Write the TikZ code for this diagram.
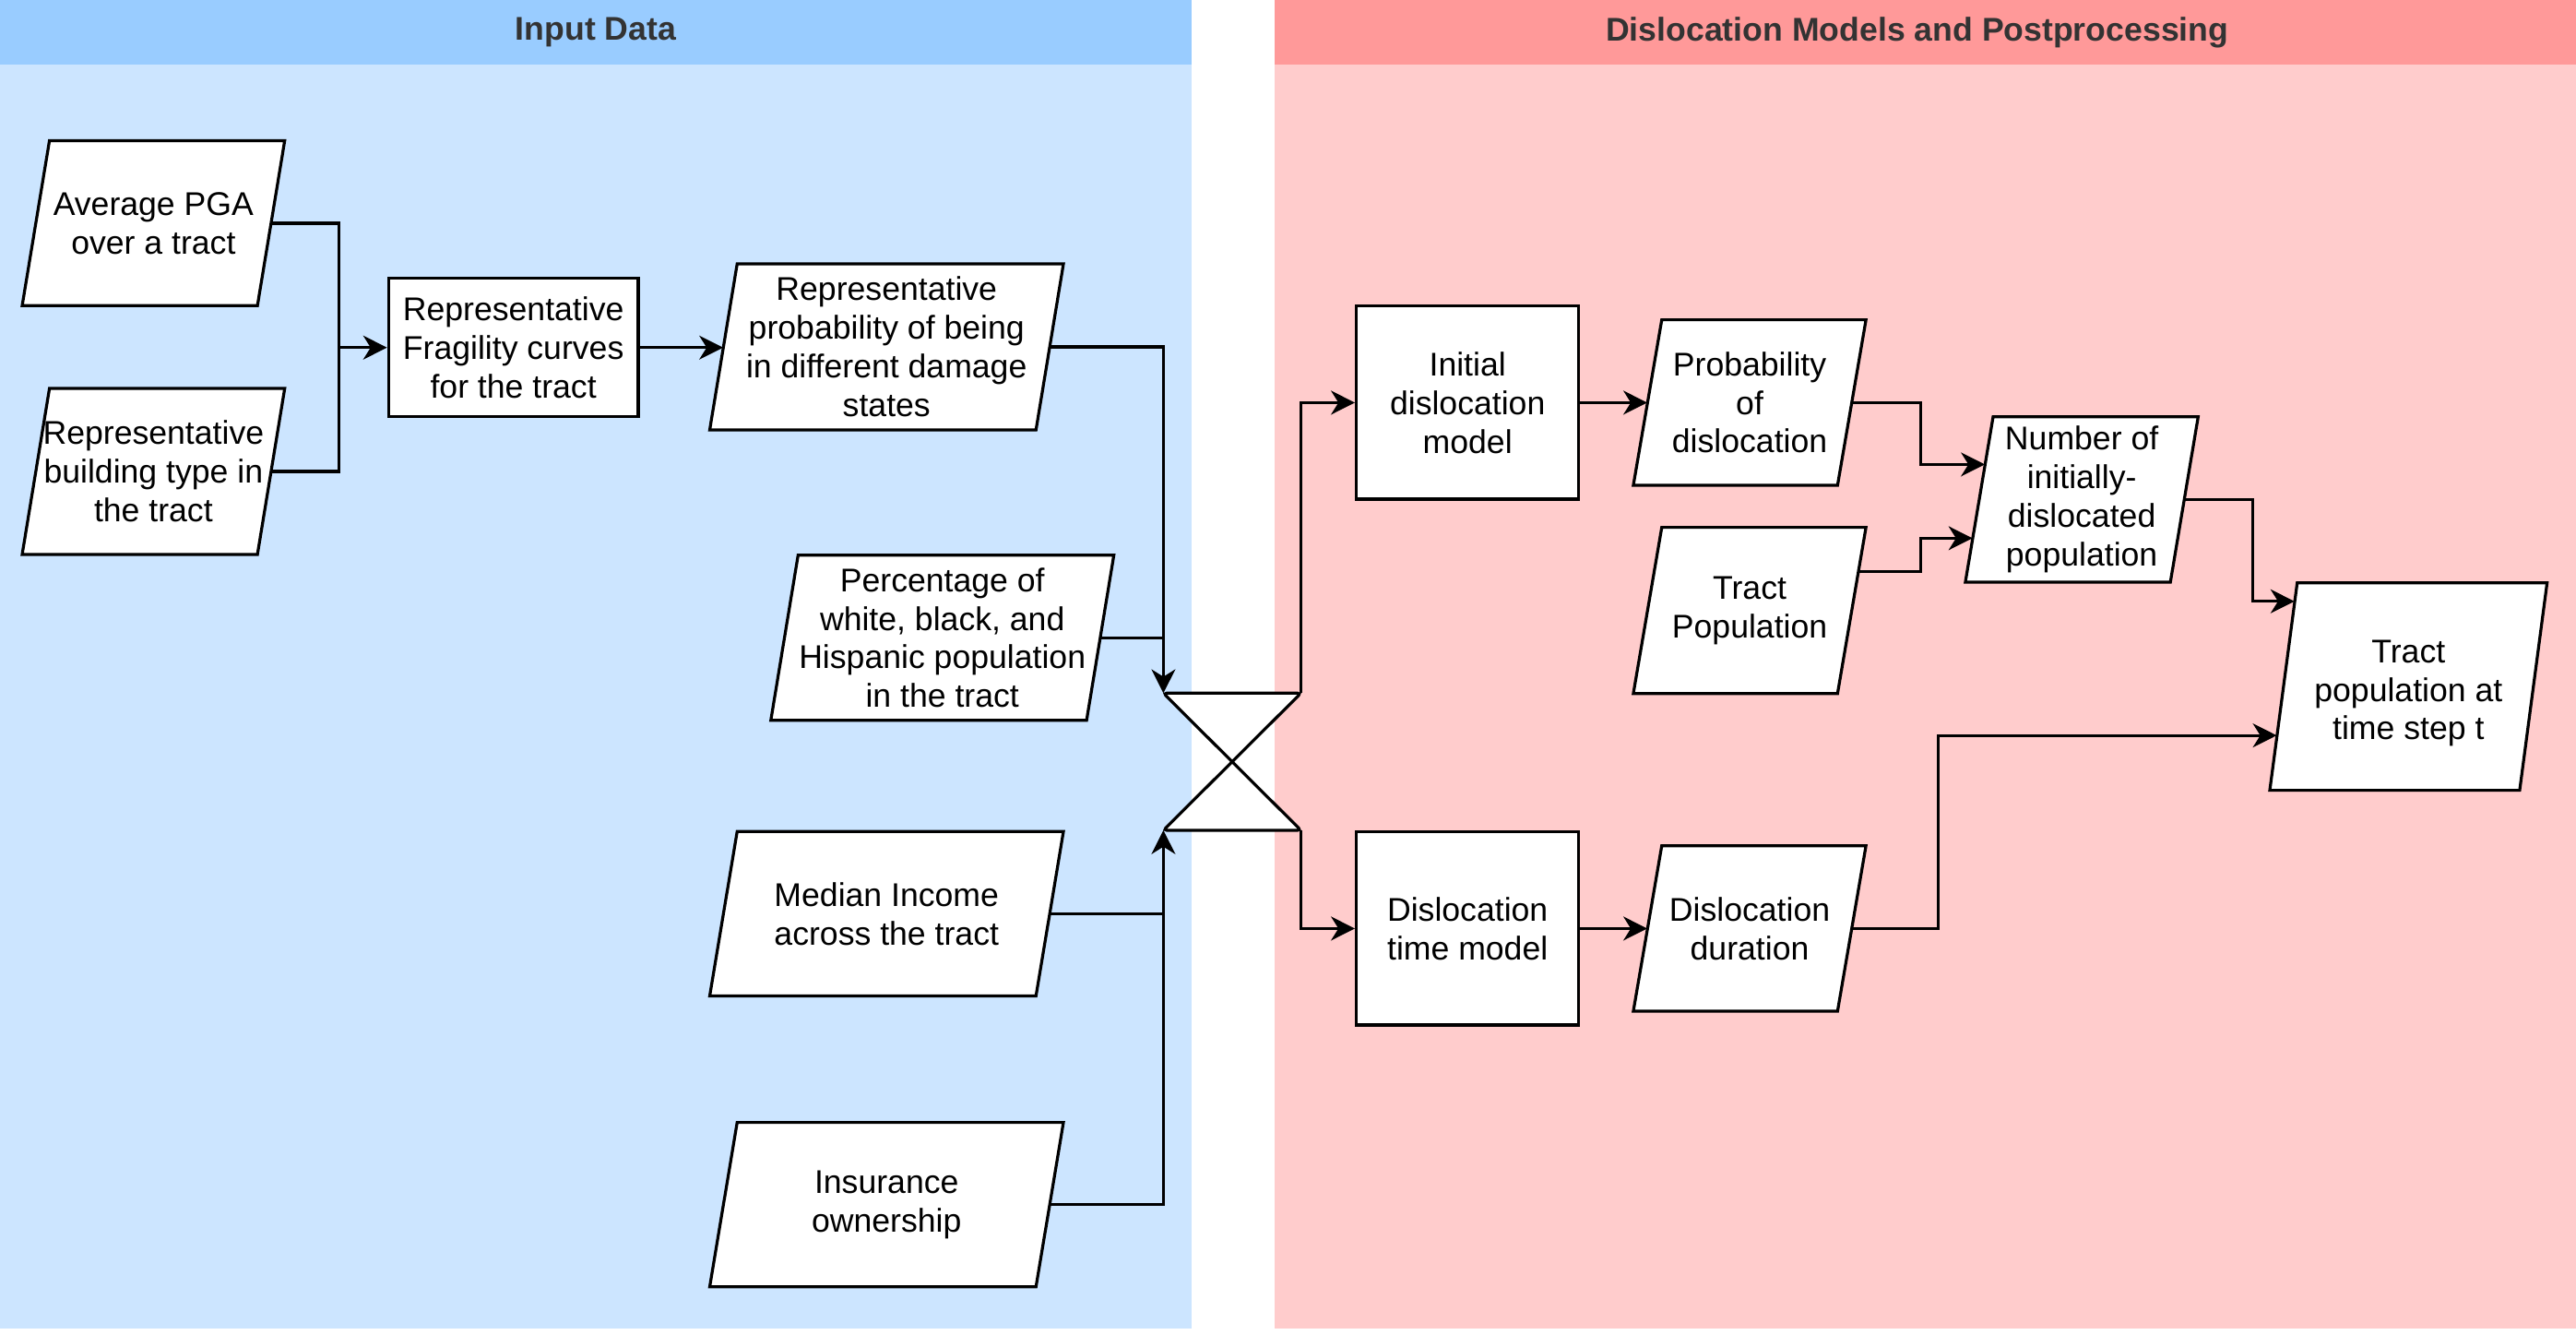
\documentclass[tikz,border=0pt]{standalone}
\usepackage{fontspec}
\setmainfont{Liberation Sans}
\usetikzlibrary{arrows.meta,calc}
\definecolor{hdrblue}{HTML}{99CCFF}
\definecolor{bodyblue}{HTML}{CCE5FF}
\definecolor{hdrred}{HTML}{FF9999}
\definecolor{bodyred}{HTML}{FFCCCC}
\definecolor{hdrtext}{HTML}{333333}
\newcommand\bodyfont{\fontsize{20}{23.5}\selectfont}
\newcommand\hdrfont{\fontsize{20}{24}\selectfont\bfseries}
\tikzset{
  box/.style={draw=black, fill=white, line width=1.8pt},
  rectnode/.style={box, inner sep=0pt, align=center, font=\bodyfont},
  pgtext/.style={inner sep=0pt, align=center, font=\bodyfont},
  arr/.style={line width=1.8pt, -{Stealth[length=14.5pt,width=14.5pt,inset=4.5pt]}},
  conn/.style={line width=1.8pt},
  hdr/.style={font=\hdrfont, text=hdrtext},
}
% parallelogram: name, x1, ytop, x2, ybottom, skew, text
\newcommand\pgram[7]{%
  \draw[box] (#2+#6,-#3) -- (#4,-#3) -- (#4-#6,-#5) -- (#2,-#5) -- cycle;
  \node[pgtext, minimum width={#4-#2-#6}, minimum height={#5-#3}] (#1) at ({(#2+#4)/2},{-(#3+#5)/2}) {#7};
}
\begin{document}
\begin{tikzpicture}[x=1pt,y=1pt]
\useasboundingbox (0,0) rectangle (1568,-812);
% panels
\fill[bodyblue] (0,0) rectangle (725.3,-808.4);
\fill[hdrblue] (0,0) rectangle (725.3,-39.3);
\node[hdr] (hin) at (362.65,-19.65) {Input Data};
\fill[bodyred] (776,0) rectangle (1568,-808.4);
\fill[hdrred] (776,0) rectangle (1568,-39.3);
\node[hdr] (hdl) at (1167,-19.65) {Dislocation Models and Postprocessing};

% input nodes
\pgram{pga}{13.5}{85.6}{173.3}{186}{16.6}{Average PGA\\over a tract}
\pgram{bld}{13.5}{236.4}{173.3}{337.4}{16.6}{Representative\\building type in\\the tract}
\node[rectnode, minimum width=152, minimum height=84.2] (frag) at (312.5,-211.5) {Representative\\Fragility curves\\for the tract};
\pgram{pd}{432}{160.6}{647.3}{261.6}{16.7}{Representative\\probability of being\\in different damage\\states}
\pgram{pct}{469.2}{337.8}{678}{438.3}{16.6}{Percentage of\\white, black, and\\Hispanic population\\in the tract}
\pgram{med}{432}{506}{647.3}{606}{16.7}{Median Income\\across the tract}
\pgram{ins}{432}{683}{647.3}{783}{16.7}{Insurance\\ownership}

% collate
\node[inner sep=0pt, minimum width=83.3, minimum height=83] (col) at (750,-463.5) {};
\draw[box, rounded corners=2pt] (col.north west) -- (col.north east) -- (col.south west) -- (col.south east) -- cycle;

% right side nodes
\node[rectnode, minimum width=135.4, minimum height=117.5] (init) at (893.3,-245) {Initial\\dislocation\\model};
\node[rectnode, minimum width=135.4, minimum height=117.5] (tm) at (893.3,-565) {Dislocation\\time model};
\pgram{pdis}{994.2}{194.6}{1135.8}{295.3}{17.3}{Probability\\of\\dislocation}
\pgram{tpop}{994.2}{320.9}{1135.8}{422}{17.3}{Tract\\Population}
\pgram{dur}{994.2}{514.6}{1135.8}{615.3}{17.3}{Dislocation\\duration}
\pgram{num}{1196.3}{253.6}{1338}{354.2}{16.9}{Number of\\initially-\\dislocated\\population}
\pgram{tpt}{1381.6}{354.6}{1550.4}{480.9}{16.7}{\rule{0pt}{22pt}Tract\\population at\\time step t}

% connectors
\draw[arr] (pga.east) -| ([xshift=-29.3pt]frag.west) -- (frag.west);
\draw[conn] (bld.east) -| ([xshift=-29.3pt]frag.west);
\draw[arr] (frag.east) -- (frag.east -| pd.west);
\draw[arr] (pd.east) -| (col.north west);
\draw[conn] (pct.east) -- (pct.east -| col.north west);
\draw[arr] (med.east) -| (col.south west);
\draw[conn] (ins.east) -| (med.east -| col.south west);
\draw[arr] (col.north east) |- (init.west);
\draw[arr] (col.south east) |- (tm.west);
\draw[arr] (init.east) -- (init.east -| pdis.west);
\draw[arr] (tm.east) -- (tm.east -| dur.west);
\draw[arr] (pdis.east) -| ($(num.west)+(-35.5,21.3)$) -- ($(num.west)+(3.6,21.3)$);
\draw[arr] ($(tpop.east)+(4.05,23.75)$) -| ($(num.west)+(-35.5,-23.6)$) -- ($(num.west)+(-3.95,-23.6)$);
\draw[arr] (num.east) -| ($(tpt.west)+(-18.65,51.85)$) -- ($(tpt.west)+(6.85,51.85)$);
\draw[arr] (dur.east) -| ($(tpt.west)+(-210.05,-29.75)$) -- ($(tpt.west)+(-3.95,-29.75)$);
\end{tikzpicture}
\end{document}
